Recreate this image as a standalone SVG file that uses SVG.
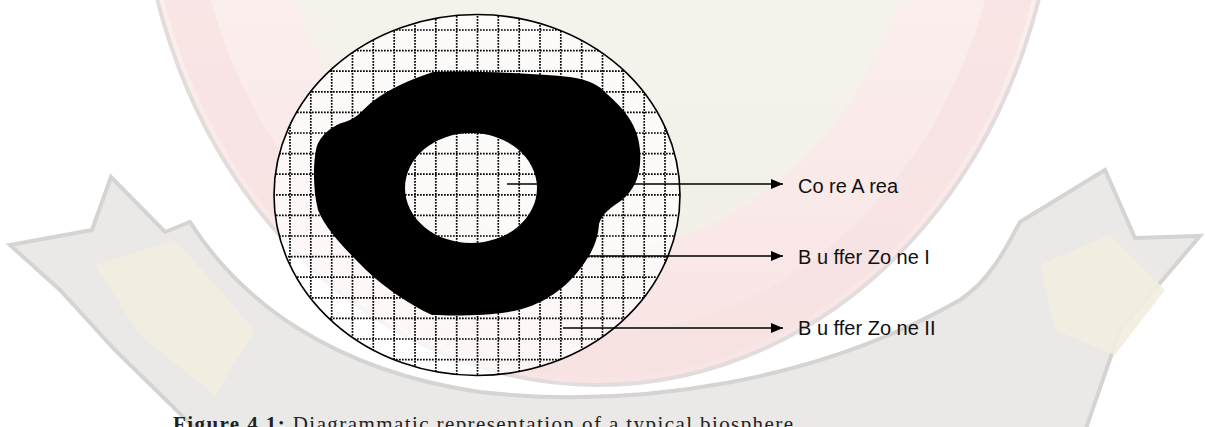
<svg xmlns="http://www.w3.org/2000/svg" width="1205" height="427" viewBox="0 0 1205 427">
  <style>
    .grid { fill: none; stroke: #000; stroke-width: 1.7; stroke-dasharray: 1.7 1.3; }
    .conn { fill: none; stroke: #000; stroke-width: 1.6; }
    .lbl { font-family: "Liberation Sans", Arial, sans-serif; font-size: 20px; fill: #111; }
    .cap { font-family: "Liberation Serif", "Times New Roman", serif; font-size: 21px; fill: #222; }
  </style>
  <defs>
    <linearGradient id="sealFill" x1="0" y1="0" x2="0" y2="1" gradientUnits="objectBoundingBox">
      <stop offset="0" stop-color="#f2faef"/>
      <stop offset="0.45" stop-color="#f1f9ec"/>
      <stop offset="0.65" stop-color="#fbeeed"/>
      <stop offset="1" stop-color="#f8e4e4"/>
    </linearGradient>
    <clipPath id="outerClip">
      <ellipse cx="477" cy="195" rx="203" ry="180.5"/>
    </clipPath>
    <marker id="arrow" markerUnits="userSpaceOnUse" markerWidth="12" markerHeight="10" refX="12" refY="5" orient="auto">
      <path d="M0,0 L12,5 L0,10 Z" fill="#000"/>
    </marker>
  </defs>

  <rect width="1205" height="427" fill="#ffffff"/>

  <!-- faded watermark background -->
  <g id="watermark">
    <ellipse cx="598" cy="-150" rx="459" ry="535" fill="url(#sealFill)" stroke="#e2dcdc" stroke-width="4"/>
    <ellipse cx="598" cy="-150" rx="430" ry="505" fill="none" stroke="#f7e1e1" stroke-width="45" opacity="0.7"/>
    <ellipse cx="598" cy="-170" rx="330" ry="420" fill="#eef8ea" opacity="0.5"/>
    <path d="M10,245 L92,230 L111,177 L165,232 L190,222 C240,300 330,370 480,392 C640,410 820,380 960,300 C990,280 1005,250 1020,222 L1105,170 L1135,238 L1200,236 L1120,330 L1082,440 L207,440 L115,350 L60,290 Z" fill="none" stroke="#ffffff" stroke-width="18"/>
    <path d="M10,245 L92,230 L111,177 L165,232 L190,222 C240,300 330,370 480,392 C640,410 820,380 960,300 C990,280 1005,250 1020,222 L1105,170 L1135,238 L1200,236 L1120,330 L1082,440 L207,440 L115,350 L60,290 Z" fill="#ebe9e7" stroke="#d6d4d2" stroke-width="4"/>
    <path d="M95,265 L175,240 L255,330 L215,395 L140,335 Z" fill="#f2eee0" opacity="0.9"/>
    <path d="M1040,265 L1110,235 L1165,290 L1115,355 L1055,330 Z" fill="#f2eee0" opacity="0.9"/>
  </g>

  <!-- outer zone with grid -->
  <g id="buffer-zone-2">
    <ellipse cx="477" cy="195" rx="203" ry="180.5" fill="#ffffff" fill-opacity="0.7"/>
    <g clip-path="url(#outerClip)">
      <path class="grid" d="M290,10V380 M310.8,10V380 M331.7,10V380 M352.5,10V380 M373.3,10V380 M394.2,10V380 M415,10V380 M435.8,10V380 M456.7,10V380 M477.5,10V380 M498.3,10V380 M519.2,10V380 M540,10V380 M560.8,10V380 M581.7,10V380 M602.5,10V380 M623.3,10V380 M644.2,10V380 M665,10V380"/>
      <path class="grid" d="M270,30H685 M270,50.6H685 M270,71.2H685 M270,91.8H685 M270,112.4H685 M270,133H685 M270,153.6H685 M270,174.2H685 M270,194.8H685 M270,215.4H685 M270,236H685 M270,256.6H685 M270,277.2H685 M270,297.8H685 M270,318.4H685 M270,339H685 M270,359.6H685"/>
    </g>
  </g>

  <!-- buffer zone I: black ring with core hole -->
  <g id="buffer-zone-1">
    <path fill="#000" fill-rule="evenodd" d="M433,72 C470,70 540,74 570,77 C590,80 600,86 606,93 C625,110 638,125 640,150 C642,175 634,190 622,200 C610,208 602,214 599,224 C598,240 592,252 585,262 C570,285 547,302 522,309 C497,316 457,316 432,315 C410,305 385,288 366,270 C346,250 326,230 318,210 C313,190 313,165 316,150 C318,138 330,126 345,122 C358,118 362,110 372,102 C390,88 410,80 433,72 Z M405,188 A66,55 0 1,0 537,188 A66,55 0 1,0 405,188 Z"/>
  </g>

  <g id="outline">
    <ellipse cx="477" cy="195" rx="203" ry="180.5" fill="none" stroke="#000" stroke-width="1.6"/>
  </g>

  <!-- connectors -->
  <g id="connectors">
    <line class="conn" x1="507" y1="184" x2="783" y2="184" marker-end="url(#arrow)"/>
    <line class="conn" x1="583" y1="256" x2="783" y2="256" marker-end="url(#arrow)"/>
    <line class="conn" x1="563" y1="328" x2="783" y2="328" marker-end="url(#arrow)"/>
  </g>

  <!-- labels -->
  <g id="label-core">
    <text class="lbl" x="798" y="193">Co re A rea</text>
  </g>
  <g id="label-buffer1">
    <text class="lbl" x="798" y="264">B u ffer Zo ne I</text>
  </g>
  <g id="label-buffer2">
    <text class="lbl" x="798" y="335">B u ffer Zo ne II</text>
  </g>

  <g id="caption">
    <text class="cap" x="173" y="431" textLength="620" lengthAdjust="spacing"><tspan font-weight="bold">Figure 4.1:</tspan> Diagrammatic representation of a typical biosphere</text>
  </g>
</svg>
